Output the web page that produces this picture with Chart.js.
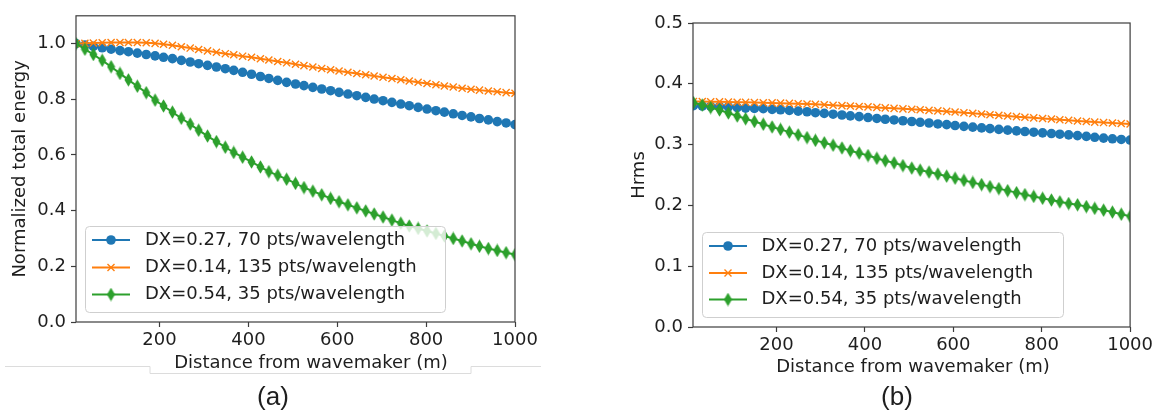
<!DOCTYPE html>
<html><head><meta charset="utf-8">
<script src="https://cdn.jsdelivr.net/npm/chart.js@4.4.1/dist/chart.umd.min.js"></script>
<style>
html,body{margin:0;padding:0;background:#fff;width:1156px;height:413px;overflow:hidden}
#wa{position:absolute;left:0;top:0;width:580px;height:413px}
#wb{position:absolute;left:580px;top:0;width:576px;height:413px}
</style></head><body>
<div id="wa"><canvas id="ca"></canvas></div>
<div id="wb"><canvas id="cb"></canvas></div>
<script>
const distance = [12,32,51,71,91,111,130,150,170,190,209,229,249,269,288,308,328,348,367,387,407,427,446,466,486,506,525,545,565,585,604,624,644,664,683,703,723,743,762,782,802,822,841,861,881,901,920,940,960,980,1000];
const seriesLabels = ["DX=0.27, 70 pts/wavelength","DX=0.14, 135 pts/wavelength","DX=0.54, 35 pts/wavelength"];
const energy70 = [1.000,0.995,0.990,0.985,0.980,0.975,0.971,0.966,0.961,0.956,0.951,0.946,0.940,0.934,0.928,0.922,0.916,0.910,0.904,0.897,0.890,0.882,0.875,0.868,0.861,0.855,0.849,0.843,0.837,0.831,0.825,0.819,0.813,0.807,0.801,0.795,0.789,0.783,0.777,0.771,0.765,0.759,0.754,0.748,0.742,0.737,0.731,0.726,0.720,0.715,0.709];
const energy135 = [1.000,1.001,1.002,1.003,1.004,1.004,1.004,1.004,1.003,1.001,0.998,0.994,0.989,0.984,0.979,0.974,0.969,0.964,0.960,0.955,0.951,0.946,0.941,0.936,0.931,0.926,0.921,0.916,0.911,0.906,0.902,0.897,0.893,0.888,0.884,0.879,0.875,0.870,0.866,0.861,0.857,0.852,0.848,0.844,0.840,0.836,0.833,0.830,0.827,0.824,0.822];
const energy35 = [1.000,0.980,0.961,0.940,0.917,0.893,0.870,0.847,0.824,0.797,0.776,0.754,0.732,0.711,0.689,0.668,0.648,0.628,0.609,0.592,0.575,0.557,0.540,0.527,0.513,0.498,0.483,0.470,0.457,0.444,0.432,0.421,0.410,0.399,0.388,0.377,0.366,0.355,0.345,0.336,0.327,0.318,0.309,0.300,0.291,0.281,0.272,0.264,0.257,0.249,0.242];
const hrms70 = [0.364,0.3635,0.363,0.3625,0.362,0.361,0.360,0.3595,0.359,0.358,0.3573,0.3562,0.355,0.354,0.3525,0.3513,0.350,0.3487,0.3473,0.346,0.3445,0.343,0.3417,0.3405,0.3392,0.338,0.3367,0.3355,0.334,0.3328,0.3313,0.330,0.3287,0.3275,0.3262,0.325,0.3238,0.3226,0.3215,0.3204,0.3193,0.3182,0.3171,0.316,0.3148,0.3135,0.312,0.3107,0.3095,0.3085,0.3075];
const hrms135 = [0.371,0.3708,0.3706,0.3704,0.370,0.3697,0.3695,0.3692,0.3689,0.3686,0.3682,0.3678,0.3673,0.3668,0.3662,0.3655,0.3648,0.3641,0.3634,0.3627,0.362,0.3612,0.3604,0.3596,0.3588,0.358,0.3572,0.3563,0.3555,0.3546,0.3536,0.3525,0.3514,0.3503,0.3492,0.3481,0.347,0.346,0.345,0.344,0.343,0.342,0.341,0.3399,0.3389,0.3379,0.337,0.3362,0.3354,0.3347,0.334];
const hrms35 = [0.369,0.365,0.361,0.357,0.352,0.347,0.3425,0.338,0.3335,0.329,0.325,0.3205,0.316,0.3115,0.307,0.303,0.299,0.2945,0.290,0.286,0.282,0.2775,0.2735,0.270,0.2655,0.2614,0.258,0.2548,0.2515,0.2481,0.2447,0.2412,0.2377,0.2342,0.2309,0.2276,0.2243,0.221,0.2178,0.2148,0.2117,0.2088,0.2059,0.2031,0.201,0.198,0.1952,0.1922,0.189,0.1855,0.182];
const xTicks = [200,400,600,800,1000];
const yTicksEnergy = [0.0,0.2,0.4,0.6,0.8,1.0];
const yTicksHrms = [0.0,0.1,0.2,0.3,0.4,0.5];

const BLUE='#1f77b4', ORANGE='#ff7f0e', GREEN='#2ca02c';
const TXT='#1e1e1e', SPINE='#3c3c3c';

function diamondImage(color){
  const c=document.createElement('canvas'); c.width=9; c.height=14;
  const g=c.getContext('2d'); g.fillStyle=color; g.beginPath();
  g.moveTo(4.5,0.3); g.lineTo(8.5,7); g.lineTo(4.5,13.7); g.lineTo(0.5,7); g.closePath(); g.fill();
  return c;
}
const dia = diamondImage(GREEN);

function drawMarker(ctx, kind, x, y){
  ctx.save();
  if(kind==='circle'){ctx.fillStyle=BLUE;ctx.beginPath();ctx.arc(x,y,4.8,0,Math.PI*2);ctx.fill();}
  else if(kind==='x'){ctx.strokeStyle=ORANGE;ctx.lineWidth=1.4;ctx.beginPath();
    ctx.moveTo(x-3.5,y-3.5);ctx.lineTo(x+3.5,y+3.5);ctx.moveTo(x+3.5,y-3.5);ctx.lineTo(x-3.5,y+3.5);ctx.stroke();}
  else {ctx.drawImage(dia,x-4.5,y-7);}
  ctx.restore();
}

const framePlugin = {
  id:'frame',
  afterDatasetsDraw(chart, args, opts){
    const ctx=chart.ctx, a=chart.chartArea;
    ctx.save();
    ctx.strokeStyle=SPINE; ctx.lineWidth=1.2;
    ctx.strokeRect(a.left, a.top, a.right-a.left, a.bottom-a.top);
    const L=opts.legend;
    const bx=a.left+L.dx, by=a.bottom-L.dy-L.h;
    ctx.beginPath(); ctx.roundRect(bx+0.5,by+0.5,L.w,L.h,4);
    ctx.fillStyle='rgba(255,255,255,0.8)'; ctx.fill();
    ctx.strokeStyle='#cfcfcf'; ctx.lineWidth=1; ctx.stroke();
    const kinds=['circle','x','diamond'];
    chart.data.datasets.forEach((ds,i)=>{
      const y=by+L.rows[i];
      ctx.strokeStyle=ds.borderColor; ctx.lineWidth=ds.borderWidth;
      ctx.beginPath(); ctx.moveTo(bx+7,y); ctx.lineTo(bx+45,y); ctx.stroke();
      drawMarker(ctx,kinds[i],bx+26,y);
      ctx.fillStyle=TXT; ctx.font=L.font; ctx.textBaseline='middle'; ctx.textAlign='left';
      ctx.fillText(ds.label,bx+L.tx,y);
    });
    if(opts.artifact){
      ctx.strokeStyle='#dcdcdc'; ctx.lineWidth=1;
      ctx.beginPath();
      ctx.moveTo(5,366.5); ctx.lineTo(150,366.5); ctx.lineTo(150,373.5); ctx.lineTo(471,373.5); ctx.lineTo(471,366.5); ctx.lineTo(541,366.5);
      ctx.stroke();
    }
    // axis title and panel label
    ctx.fillStyle=TXT; ctx.textAlign='center'; ctx.textBaseline='middle';
    ctx.font='18px "DejaVu Sans"';
    ctx.fillText(opts.xTitle, opts.xTitlePos[0], opts.xTitlePos[1]);
    ctx.font='26px "Liberation Sans"';
    ctx.fillText(opts.panel, opts.panelPos[0], opts.panelPos[1]);
    ctx.restore();
  }
};

function makeChart(id, cfg){
  const mk=(arr)=>distance.map((d,i)=>({x:d,y:arr[i]}));
  return new Chart(document.getElementById(id),{
    type:'line',
    data:{datasets:[
      {label:seriesLabels[0],data:mk(cfg.s[0]),borderColor:BLUE,backgroundColor:BLUE,borderWidth:2,pointStyle:'circle',pointRadius:4.8,pointBorderWidth:0,pointBackgroundColor:BLUE,order:2},
      {label:seriesLabels[1],data:mk(cfg.s[1]),borderColor:ORANGE,backgroundColor:ORANGE,borderWidth:2,pointStyle:'crossRot',pointRadius:5,pointBorderWidth:1.4,pointBorderColor:ORANGE,order:1},
      {label:seriesLabels[2],data:mk(cfg.s[2]),borderColor:GREEN,backgroundColor:GREEN,borderWidth:2,pointStyle:dia,pointRadius:6,order:0}
    ]},
    options:{
      responsive:true, maintainAspectRatio:false, animation:false, devicePixelRatio:1,
      layout:{padding:{left:cfg.padL,top:cfg.padT,right:cfg.padR,bottom:31.2}},
      elements:{line:{tension:0}},
      plugins:{
        legend:{display:false}, tooltip:{enabled:false}, title:{display:false},
        frame:{legend:cfg.legend,artifact:cfg.artifact,xTitle:'Distance from wavemaker (m)',xTitlePos:cfg.xTitlePos,panel:cfg.label,panelPos:cfg.panelPos}
      },
      scales:{
        x:{type:'linear',min:cfg.xmin,max:1000,
          afterBuildTicks:(s)=>{s.ticks=xTicks.map(v=>({value:v}));},
          afterFit:(s)=>{s.height=cfg.xh;},
          grid:{drawOnChartArea:false,drawTicks:true,tickLength:5,tickColor:SPINE,tickWidth:1.2},
          border:{display:false},
          ticks:{color:TXT,padding:3,font:{family:'DejaVu Sans',size:18},maxRotation:0,callback:(v)=>String(v)},
          title:{display:false}
        },
        y:{type:'linear',min:0,max:cfg.ymax,
          afterBuildTicks:(s)=>{s.ticks=cfg.yt.map(v=>({value:v}));},
          afterFit:(s)=>{s.width=cfg.yw;},
          grid:{drawOnChartArea:false,drawTicks:true,tickLength:5,tickColor:SPINE,tickWidth:1.2},
          border:{display:false},
          ticks:{color:TXT,padding:5,font:{family:'DejaVu Sans',size:18},callback:(v)=>Number(v).toFixed(1)},
          title:{display:true,text:cfg.ytitle,color:TXT,font:{family:'DejaVu Sans',size:18},padding:{top:cfg.ytpt,bottom:0}}
        }
      }
    },
    plugins:[framePlugin]
  });
}

makeChart('ca',{s:[energy70,energy135,energy35],padL:0,padT:13,padR:65,xmin:12,ymax:1.1,yt:yTicksEnergy,yw:76,xh:59.8,ytpt:10,
  ytitle:'Normalized total energy',label:'(a)',artifact:true,xTitlePos:[311,363],panelPos:[273,398],
  legend:{dx:9,dy:10,w:360,h:86,rows:[14,41.5,68.5],tx:60,font:'18px "DejaVu Sans"'}});
makeChart('cb',{s:[hrms70,hrms135,hrms35],padL:40,padT:23,padR:23,xmin:11,ymax:0.5,yt:yTicksHrms,yw:73,xh:54.8,ytpt:9,
  ytitle:'Hrms',label:'(b)',artifact:false,xTitlePos:[333,367],panelPos:[317,398],
  legend:{dx:9,dy:10,w:361,h:85,rows:[14,41,67.5],tx:59.5,font:'18px "DejaVu Sans"'}});
</script>
</body></html>
